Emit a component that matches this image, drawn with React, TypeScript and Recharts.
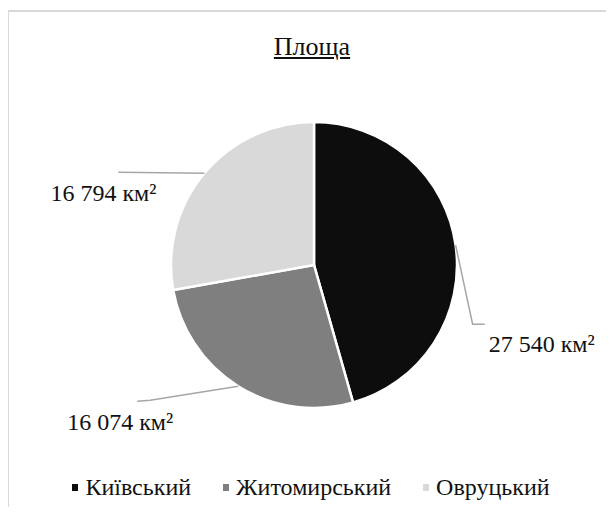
import { PieChart, Pie, Cell, Legend } from "recharts";

const districts: string[] = ["Київський", "Житомирський", "Овруцький"];
const areas: number[] = [27540, 16074, 16794];
const colors: string[] = ["#0d0d0d", "#7f7f7f", "#d9d9d9"];

const data = districts.map((name, i) => ({ name, value: areas[i] }));

const FONT = "'Liberation Serif', 'Times New Roman', serif";

// leader line bends / text spots, relative to the slice edge at mid angle
const guides = [
  { pts: [[17, 79], [29, 79]], tx: 33, ty: 107, anchor: "start" },
  { pts: [[-88, 14], [-101, 15]], tx: -118, ty: 44, anchor: "middle" },
  { pts: [[-86, -1]], tx: -154, ty: 28, anchor: "start" },
];

const fmt = (v: number) =>
  `${Math.floor(v / 1000)} ${String(v % 1000).padStart(3, "0")} км²`;

const renderLabel = (props: any) => {
  const { cx, cy, midAngle, outerRadius, index, value } = props;
  const RAD = Math.PI / 180;
  const ex = cx + outerRadius * Math.cos(-midAngle * RAD);
  const ey = cy + outerRadius * Math.sin(-midAngle * RAD);
  const g = guides[index];
  const points = [[0, 0], ...g.pts]
    .map(([dx, dy]) => `${ex + dx},${ey + dy}`)
    .join(" ");
  return (
    <g>
      <polyline points={points} fill="none" stroke="#a6a6a6" strokeWidth={1.5} />
      <text
        x={ex + g.tx}
        y={ey + g.ty}
        textAnchor={g.anchor as any}
        fill="#111"
        fontSize={24}
        fontFamily={FONT}
      >
        {fmt(value)}
      </text>
    </g>
  );
};

// legend drawn in the data order (recharts would sort it by name)
const renderLegend = () => (
  <div
    style={{
      display: "flex",
      justifyContent: "center",
      gap: 32,
      fontFamily: FONT,
      fontSize: 24,
      color: "#111",
    }}
  >
    {districts.map((name, i) => (
      <div key={name} style={{ display: "flex", alignItems: "center" }}>
        <span
          style={{
            width: 6,
            height: 7,
            background: colors[i],
            marginRight: 7,
            display: "inline-block",
          }}
        />
        <span>{name}</span>
      </div>
    ))}
  </div>
);

export default function App() {
  return (
    <div style={{ position: "relative", width: 606, height: 499 }}>
      <div
        style={{
          position: "absolute",
          left: -1,
          top: 2,
          width: 607,
          height: 497,
          borderTop: "2px solid #d9d9d9",
          borderLeft: "2px solid #d9d9d9",
          boxSizing: "border-box",
        }}
      />
      <div
        style={{
          position: "absolute",
          left: 0,
          top: 24,
          width: 606,
          textAlign: "center",
          fontFamily: FONT,
          fontSize: 26,
          textDecoration: "underline",
          color: "#111",
          paddingLeft: 1,
        }}
      >
        Площа
      </div>
      <PieChart
        width={606}
        height={499}
        margin={{ top: 0, right: 0, bottom: 0, left: 0 }}
        style={{ position: "absolute", left: 0, top: 0 }}
      >
        <Pie
          data={data}
          dataKey="value"
          nameKey="name"
          cx={306}
          cy={257}
          outerRadius={143}
          startAngle={90}
          endAngle={-270}
          stroke="#ffffff"
          strokeWidth={2.5}
          label={renderLabel}
          labelLine={false}
          isAnimationActive={false}
        >
          {data.map((d, i) => (
            <Cell key={d.name} fill={colors[i]} />
          ))}
        </Pie>
        <Legend
          content={renderLegend}
          wrapperStyle={{ top: 466, left: 0, width: 606 }}
        />
      </PieChart>
    </div>
  );
}
